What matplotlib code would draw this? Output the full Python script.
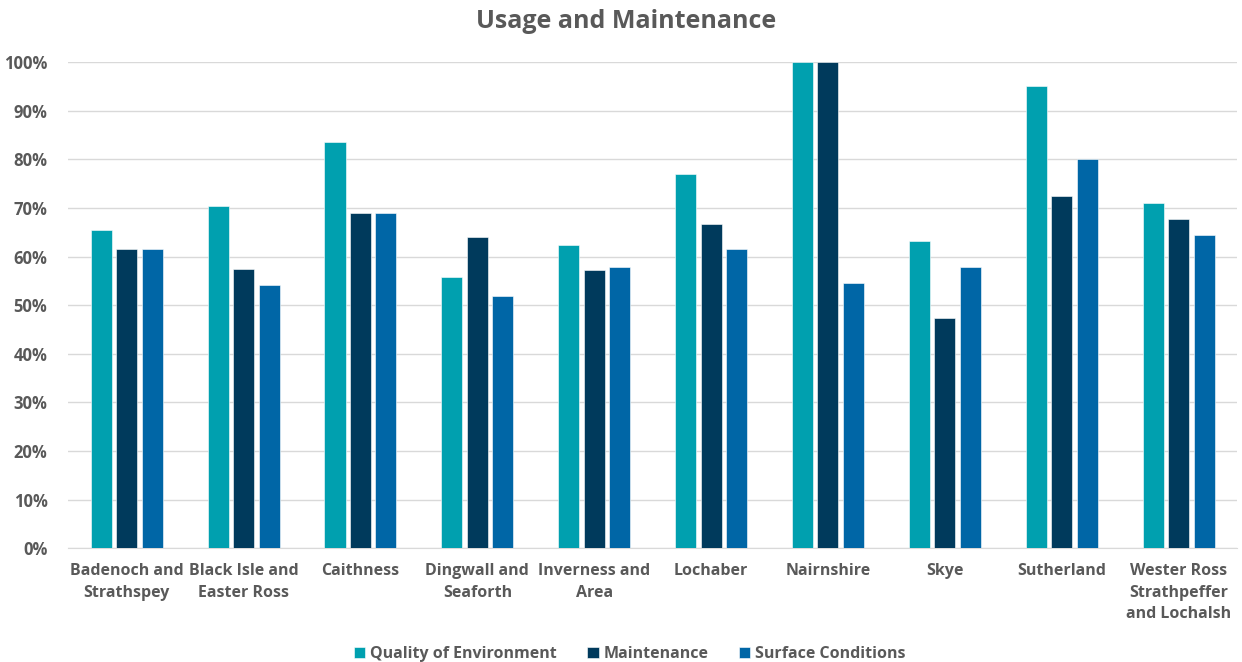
import matplotlib
matplotlib.use("Agg")
import matplotlib.pyplot as plt
import numpy as np
from matplotlib.ticker import PercentFormatter

categories = ["Badenoch and\nStrathspey", "Black Isle and\nEaster Ross", "Caithness",
              "Dingwall and\nSeaforth", "Inverness and\nArea", "Lochaber", "Nairnshire",
              "Skye", "Sutherland", "Wester Ross\nStrathpeffer\nand Lochalsh"]
quality = [65.4, 70.4, 83.5, 55.8, 62.3, 76.9, 100.0, 63.2, 95.1, 71.0]
maintenance = [61.5, 57.4, 69.0, 64.0, 57.2, 66.7, 100.0, 47.4, 72.4, 67.7]
surface = [61.5, 54.1, 69.0, 51.9, 57.8, 61.5, 54.5, 57.9, 80.0, 64.5]
series_names = ["Quality of Environment", "Maintenance", "Surface Conditions"]
colors = ["#00A0AF", "#003A5C", "#0066A6"]

plt.rcParams['font.family'] = ['Open Sans', 'DejaVu Sans']
txt = "#595959"

fig = plt.figure(figsize=(12.42, 6.62), dpi=100)
ax = fig.add_axes([0.055, 0.172, 0.941, 0.734])

x = np.arange(len(categories))
w = 0.18
step = 0.218
for i, (vals, name, c) in enumerate(zip([quality, maintenance, surface], series_names, colors)):
    ax.bar(x + (i - 1) * step, vals, width=w, color=c, label=name, zorder=3,
           edgecolor="white", linewidth=0.4)

ax.set_xlim(-0.5, len(categories) - 0.5)
ax.set_ylim(0, 100)
ax.set_yticks(np.arange(0, 101, 10))
ax.yaxis.set_major_formatter(PercentFormatter(decimals=0))
ax.set_xticks(x)
ax.set_xticklabels(categories, fontsize=11.5, fontweight="bold", color=txt, linespacing=1.45)
ax.tick_params(axis="y", labelsize=12, labelcolor=txt, length=0, pad=15)
ax.tick_params(axis="x", length=0, pad=11)
for lbl in ax.get_yticklabels():
    lbl.set_fontweight("bold")
ax.grid(axis="y", color="#D9D9D9", linewidth=1, zorder=0)
for s in ["top", "right", "left"]:
    ax.spines[s].set_visible(False)
ax.spines["bottom"].set_color("#D9D9D9")

fig.text(0.504, 0.967, "Usage and Maintenance", ha="center", va="center",
         fontsize=18, fontweight="bold", color=txt)

leg = fig.legend(loc="center", bbox_to_anchor=(0.507, 0.012), ncol=3, frameon=False,
                 handlelength=0.7, handleheight=0.7, handletextpad=0.3, columnspacing=1.9,
                 prop={"size": 11.5, "weight": "bold"})
for t in leg.get_texts():
    t.set_color(txt)

fig.savefig("out.png", dpi=100)
